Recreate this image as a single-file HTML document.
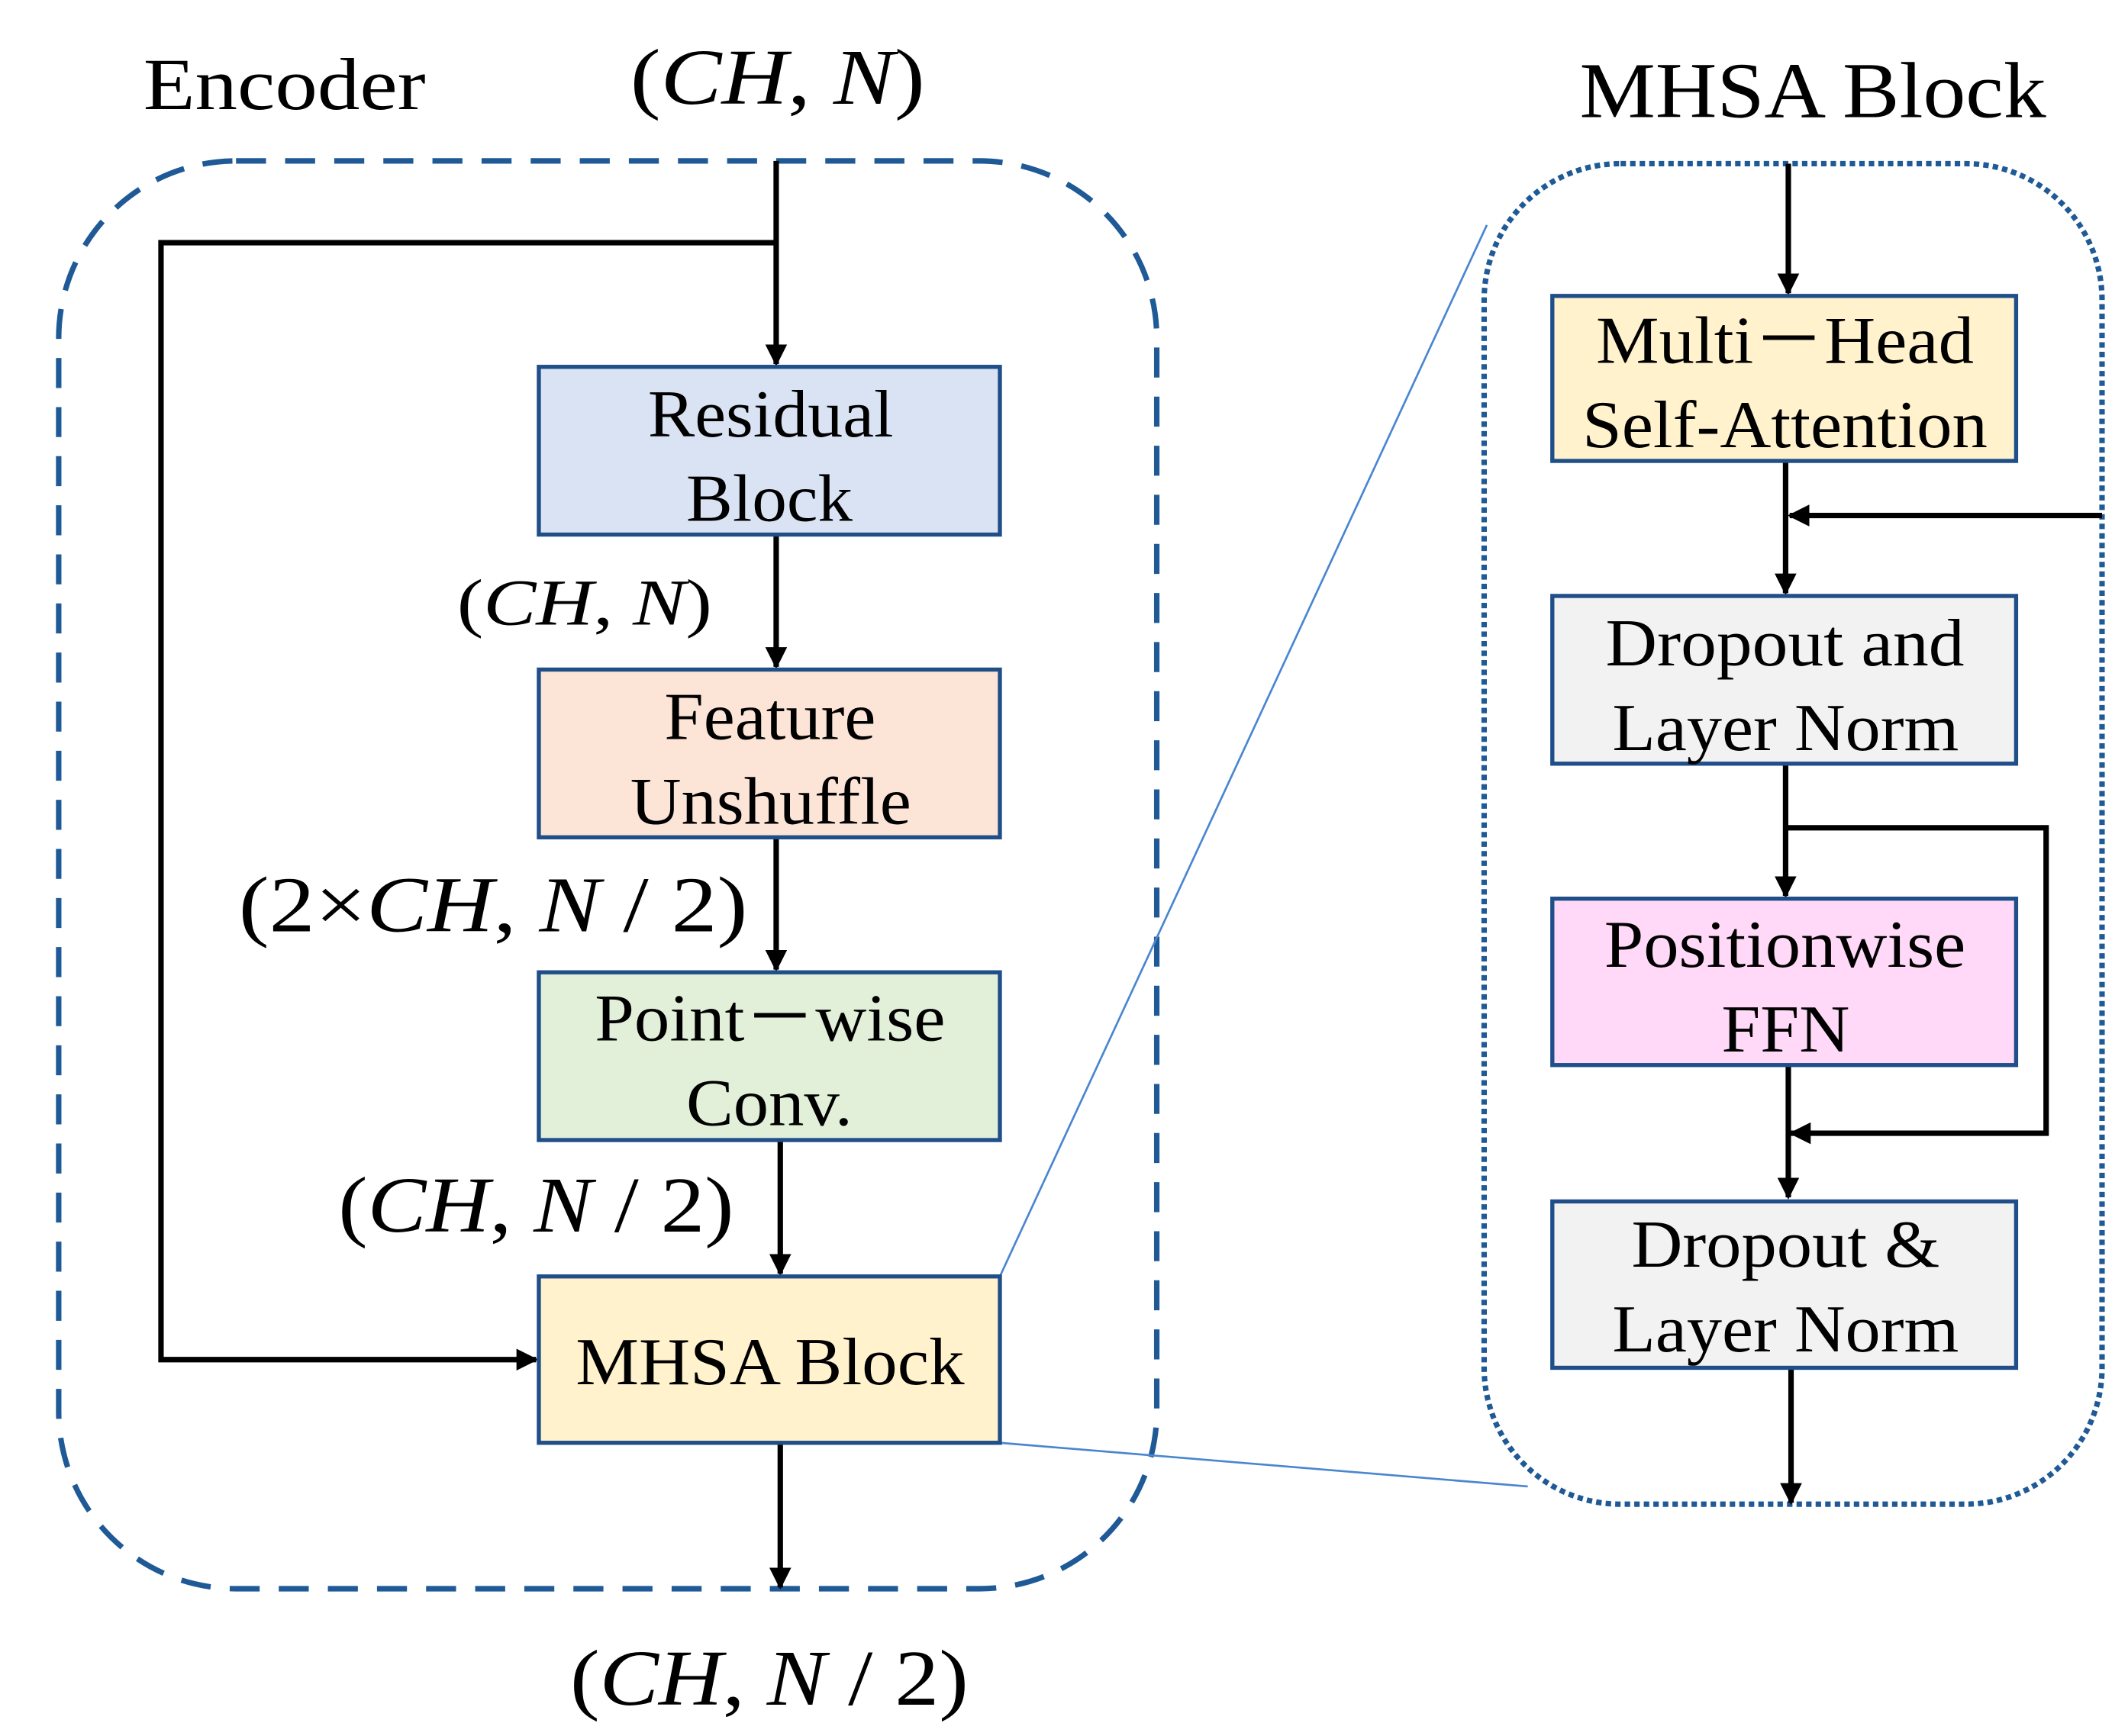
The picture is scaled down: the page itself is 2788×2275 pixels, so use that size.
<!DOCTYPE html>
<html><head><meta charset="utf-8"><style>
html,body{margin:0;padding:0;background:#fff;width:2788px;height:2275px;overflow:hidden}
svg{display:block}
text{font-family:"Liberation Serif",serif;fill:#000}
.it{font-style:italic}
</style></head><body>
<svg width="2788" height="2275" viewBox="0 0 1560 1273" xmlns="http://www.w3.org/2000/svg">
<defs>
<marker id="a" viewBox="0 0 10 10" refX="9" refY="5" markerWidth="4" markerHeight="4" orient="auto"><path d="M0,0L10,5L0,10z" fill="#000"/></marker>
</defs>
<text x="105" y="80" font-size="54" textLength="207" lengthAdjust="spacingAndGlyphs">Encoder</text>
<text x="462" y="76" font-size="58" textLength="216" lengthAdjust="spacingAndGlyphs">(<tspan class="it">CH</tspan>, <tspan class="it">N</tspan>)</text>
<text x="1158" y="86" font-size="58" textLength="342" lengthAdjust="spacingAndGlyphs">MHSA Block</text>

<rect x="43" y="118" width="805" height="1047" rx="130" fill="none" stroke="#1f5a96" stroke-width="4" stroke-dasharray="22 14"/>
<rect x="1088" y="120" width="453" height="983" rx="100" fill="none" stroke="#1f5a96" stroke-width="4" stroke-dasharray="4 3"/>

<line x1="733" y1="936" x2="1090" y2="165" stroke="#4a86d0" stroke-width="1.5"/>
<line x1="733" y1="1058" x2="1120" y2="1090" stroke="#4a86d0" stroke-width="1.5"/>

<g stroke="#000" stroke-width="4" fill="none">
<line x1="569" y1="118" x2="569" y2="267" marker-end="url(#a)"/>
<polyline points="569,178 118,178 118,997 393,997" marker-end="url(#a)"/>
<line x1="569" y1="392" x2="569" y2="489" marker-end="url(#a)"/>
<line x1="569" y1="614" x2="569" y2="711" marker-end="url(#a)"/>
<line x1="572" y1="836" x2="572" y2="934" marker-end="url(#a)"/>
<line x1="572" y1="1058" x2="572" y2="1164" marker-end="url(#a)"/>
<line x1="1311" y1="120" x2="1311" y2="215" marker-end="url(#a)"/>
<line x1="1309" y1="338" x2="1309" y2="435" marker-end="url(#a)"/>
<line x1="1541" y1="378" x2="1312" y2="378" marker-end="url(#a)"/>
<line x1="1309" y1="560" x2="1309" y2="657" marker-end="url(#a)"/>
<polyline points="1309,607 1500,607 1500,831 1313,831" marker-end="url(#a)"/>
<line x1="1311" y1="781" x2="1311" y2="878" marker-end="url(#a)"/>
<line x1="1313" y1="1003" x2="1313" y2="1102" marker-end="url(#a)"/>
</g>

<g stroke="#1f4e89" stroke-width="3">
<rect x="395" y="269" width="338" height="123" fill="#dae3f3"/>
<rect x="395" y="491" width="338" height="123" fill="#fce4d6"/>
<rect x="395" y="713" width="338" height="123" fill="#e2f0d9"/>
<rect x="395" y="936" width="338" height="122" fill="#fff2cc"/>
<rect x="1138" y="217" width="340" height="121" fill="#fff2cc"/>
<rect x="1138" y="437" width="340" height="123" fill="#f2f2f2"/>
<rect x="1138" y="659" width="340" height="122" fill="#ffd9f7"/>
<rect x="1138" y="881" width="340" height="122" fill="#f2f2f2"/>
</g>

<g font-size="49" lengthAdjust="spacingAndGlyphs">
<text x="475" y="320" textLength="180" lengthAdjust="spacingAndGlyphs">Residual</text>
<text x="503" y="382" textLength="122" lengthAdjust="spacingAndGlyphs">Block</text>
<text x="487" y="542" textLength="155" lengthAdjust="spacingAndGlyphs">Feature</text>
<text x="462" y="604" textLength="206" lengthAdjust="spacingAndGlyphs">Unshuffle</text>
<text x="436" y="763" textLength="257" lengthAdjust="spacingAndGlyphs">Point－wise</text>
<text x="503" y="825" textLength="122" lengthAdjust="spacingAndGlyphs">Conv.</text>
<text x="422" y="1015" textLength="285" lengthAdjust="spacingAndGlyphs">MHSA Block</text>
<text x="1170" y="266" textLength="277" lengthAdjust="spacingAndGlyphs">Multi－Head</text>
<text x="1160" y="328" textLength="297" lengthAdjust="spacingAndGlyphs">Self-Attention</text>
<text x="1177" y="488" textLength="263" lengthAdjust="spacingAndGlyphs">Dropout and</text>
<text x="1182" y="550" textLength="254" lengthAdjust="spacingAndGlyphs">Layer Norm</text>
<text x="1176" y="709" textLength="265" lengthAdjust="spacingAndGlyphs">Positionwise</text>
<text x="1262" y="771" textLength="94" lengthAdjust="spacingAndGlyphs">FFN</text>
<text x="1196" y="929" textLength="226" lengthAdjust="spacingAndGlyphs">Dropout &amp;</text>
<text x="1182" y="991" textLength="254" lengthAdjust="spacingAndGlyphs">Layer Norm</text>
</g>

<text x="335" y="458" font-size="48" textLength="187" lengthAdjust="spacingAndGlyphs">(<tspan class="it">CH</tspan>, <tspan class="it">N</tspan>)</text>
<text x="175" y="683" font-size="58" textLength="373" lengthAdjust="spacingAndGlyphs">(2×<tspan class="it">CH</tspan>, <tspan class="it">N</tspan> / 2)</text>
<text x="248" y="903" font-size="58" textLength="290" lengthAdjust="spacingAndGlyphs">(<tspan class="it">CH</tspan>, <tspan class="it">N</tspan> / 2)</text>
<text x="418" y="1250" font-size="58" textLength="292" lengthAdjust="spacingAndGlyphs">(<tspan class="it">CH</tspan>, <tspan class="it">N</tspan> / 2)</text>
</svg>
</body></html>
